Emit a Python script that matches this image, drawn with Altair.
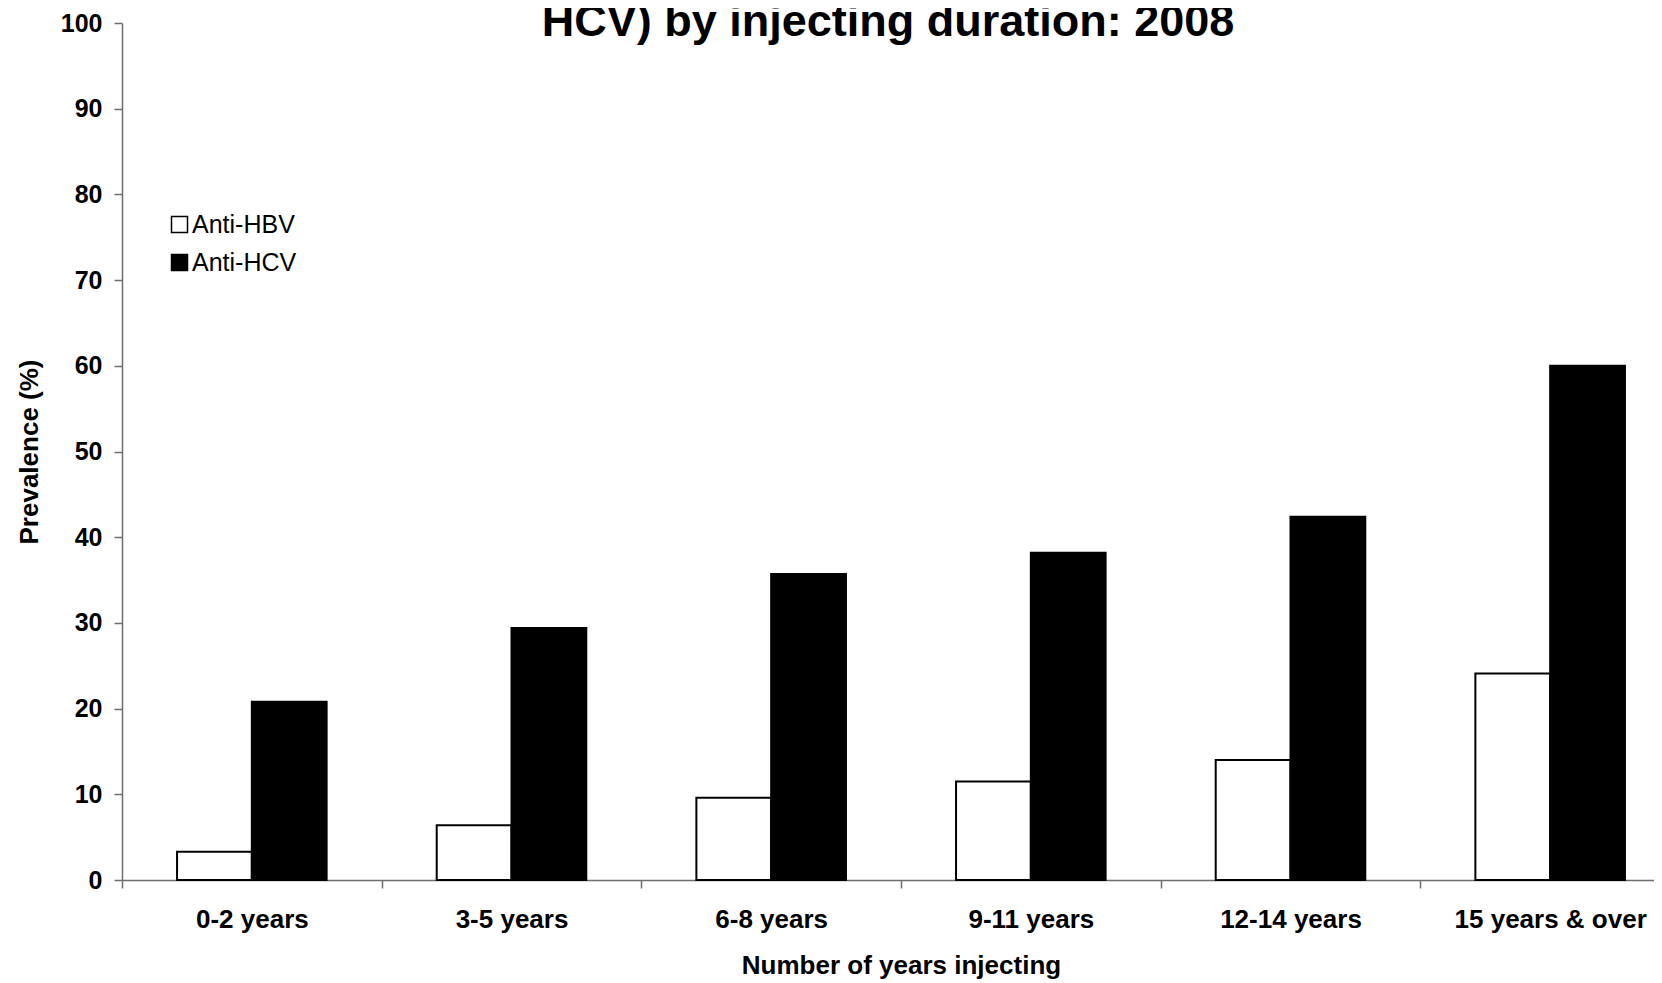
import altair as alt
import pandas as pd

categories = ["0-2 years", "3-5 years", "6-8 years", "9-11 years", "12-14 years", "15 years & over"]
series = ["Anti-HBV", "Anti-HCV"]
anti_hbv = [3.3, 6.4, 9.6, 11.5, 14.0, 24.1]
anti_hcv = [20.8, 29.4, 35.7, 38.2, 42.4, 60.0]
y_ticks = list(range(0, 101, 10))

rows = []
for c, a, b in zip(categories, anti_hbv, anti_hcv):
    rows.append({"cat": c, "series": "Anti-HBV", "value": a})
    rows.append({"cat": c, "series": "Anti-HCV", "value": b})
df = pd.DataFrame(rows)

FONT = "Liberation Sans"
AXIS_COLOR = "#6e6e6e"

chart = alt.Chart(df).mark_bar(stroke="black", strokeWidth=2).encode(
    x=alt.X(
        "cat:N",
        sort=categories,
        scale=alt.Scale(range=[0, 1558], paddingInner=0, paddingOuter=0),
        axis=alt.Axis(
            title="Number of years injecting",
            labelAngle=0,
            tickBand="extent",
            labelFontSize=26,
            labelFontWeight="bold",
            labelColor="black",
            labelPadding=18,
            labelLimit=600,
            titleFontSize=26,
            titleFontWeight="bold",
            titleColor="black",
            titlePadding=20,
            domainColor=AXIS_COLOR,
            domainWidth=1.5,
            tickColor=AXIS_COLOR,
            tickWidth=1.5,
            tickSize=8,
            grid=False,
        ),
    ),
    xOffset=alt.XOffset(
        "series:N", sort=series, scale=alt.Scale(paddingInner=0, paddingOuter=0.736)
    ),
    y=alt.Y(
        "value:Q",
        scale=alt.Scale(domain=[0, 100]),
        axis=alt.Axis(
            title="Prevalence (%)",
            values=y_ticks,
            grid=False,
            labelFontSize=25,
            labelFontWeight="bold",
            labelColor="black",
            labelPadding=12,
            titleFontSize=26,
            titleFontWeight="bold",
            titleColor="black",
            titlePadding=18,
            domainColor=AXIS_COLOR,
            domainWidth=1.5,
            tickColor=AXIS_COLOR,
            tickWidth=1.5,
            tickSize=8,
        ),
    ),
    color=alt.Color(
        "series:N",
        scale=alt.Scale(domain=series, range=["white", "black"]),
        legend=alt.Legend(
            title=None,
            orient="none",
            legendX=45,
            legendY=189,
            symbolType="square",
            symbolSize=256,
            symbolStrokeColor="black",
            symbolStrokeWidth=1.5,
            labelFontSize=25,
            labelFont=FONT,
            labelColor="black",
            labelOffset=0,
            rowPadding=12,
            padding=0,
        ),
    ),
).properties(
    width=1532,
    height=857,
    padding={"left": 114, "top": 15, "right": 0, "bottom": 104},
    autosize=alt.AutoSizeParams(type="none"),
    title=alt.TitleParams(
        "HCV) by injecting duration: 2008",
        fontSize=45,
        fontWeight="bold",
        font=FONT,
        color="black",
        anchor="middle",
        offset=-34,
    ),
).configure(font=FONT).configure_view(stroke=None)

chart.save("out.html", embed_options={"renderer": "svg", "actions": False})
